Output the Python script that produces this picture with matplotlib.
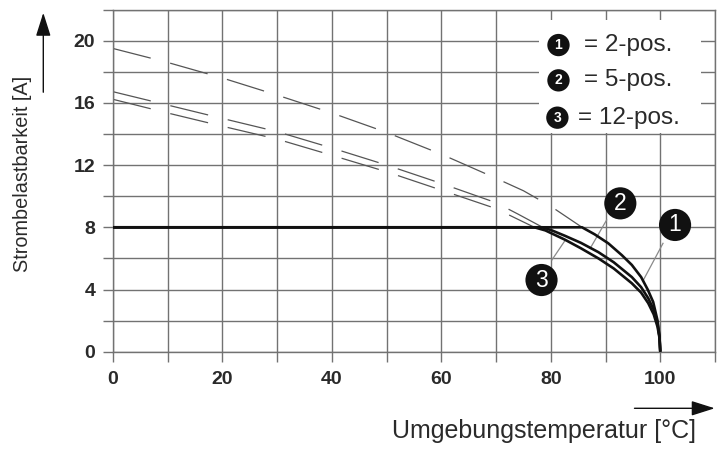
import matplotlib
matplotlib.use("Agg")
import matplotlib.pyplot as plt
from matplotlib.patches import Rectangle, FancyArrowPatch

plt.rcParams['font.family'] = ['Liberation Sans', 'DejaVu Sans']
plt.rcParams['lines.scale_dashes'] = False

# ---- data ----
# dashed base curves
dash1_x = [0, 10, 20, 30, 40, 50, 60, 70, 75, 80, 85.7]
dash1_y = [19.5, 18.6, 17.6, 16.5, 15.35, 14.1, 12.7, 11.15, 10.35, 9.35, 8.0]
dash2_x = [0, 10, 20, 30, 40, 50, 60, 70, 74, 78.5]
dash2_y = [16.72, 15.86, 15.0, 14.15, 13.1, 12.0, 10.82, 9.58, 8.85, 8.0]
dash3_x = [0, 10, 20, 30, 40, 50, 60, 70, 73.6, 77.0]
dash3_y = [16.23, 15.35, 14.5, 13.67, 12.63, 11.57, 10.39, 9.2, 8.58, 8.0]

# solid derating curves
sol1_x = [0, 85.7, 88, 90.5, 93, 94.8, 96.5, 97.7, 98.7, 99.5, 99.85, 100]
sol1_y = [8.0, 8.0, 7.55, 6.97, 6.2, 5.58, 4.8, 4.0, 3.2, 2.0, 1.0, 0]
sol2_x = [0, 78.5, 80.2, 82.6, 85.5, 88.7, 91.5, 94.8, 96.5, 97.8, 98.8, 99.5, 99.85, 100]
sol2_y = [8.0, 8.0, 7.8, 7.45, 7.0, 6.4, 5.75, 4.8, 4.15, 3.44, 2.7, 1.8, 1.0, 0]
sol3_x = [0, 77.0, 79, 82.6, 85.5, 88.7, 91.5, 94.8, 96.5, 97.8, 98.8, 99.5, 99.85, 100]
sol3_y = [8.0, 8.0, 7.8, 7.2, 6.65, 6.0, 5.35, 4.4, 3.8, 3.12, 2.4, 1.6, 0.9, 0]

legend_nums = ['1', '2', '3']
legend_texts = ['= 2-pos.', '= 5-pos.', '= 12-pos.']

x_ticks = list(range(0, 111, 10))
x_labels = ['0', '', '20', '', '40', '', '60', '', '80', '', '100', '']
y_ticks = list(range(0, 23, 2))
y_labels = ['0', '', '4', '', '8', '', '12', '', '16', '', '20', '']

# ---- figure ----
fig = plt.figure(figsize=(7.2, 4.54), dpi=100)
ax = fig.add_axes([113/720, 1 - 351.7/454, (715 - 113)/720, (351.7 - 9.6)/454])
ax.set_xlim(0, 110)
ax.set_ylim(0, 22)
ax.set_axisbelow(True)

gridc = '#727272'
ax.set_xticks(x_ticks)
ax.set_xticklabels(x_labels)
ax.set_yticks(y_ticks)
ax.set_yticklabels(y_labels)
ax.grid(True, color=gridc, lw=1.0)
ax.tick_params(axis='both', direction='out', length=7.2, width=1.0, color=gridc,
               labelsize=14, labelcolor='#2a2a2a')
ax.tick_params(axis='y', pad=5.5)
ax.tick_params(axis='x', pad=6.5)
for lab in ax.get_xticklabels() + ax.get_yticklabels():
    lab.set_fontweight('bold')
for s in ax.spines.values():
    s.set_color(gridc)
    s.set_linewidth(1.0)

# white legend box covering the grid
ax.add_patch(Rectangle((77.8, 14.06), 29.7, 7.27, facecolor='white',
                       edgecolor='none', zorder=1))

dkw = dict(color='#555555', lw=0.9, dashes=(28, 14.5), zorder=2)
ax.plot(dash1_x, dash1_y, **dkw)
ax.plot(dash2_x, dash2_y, **dkw)
ax.plot(dash3_x, dash3_y, **dkw)

skw = dict(color='#111111', lw=1.9, zorder=3, solid_capstyle='butt',
           solid_joinstyle='round')
ax.plot(sol3_x, sol3_y, **skw)
ax.plot(sol2_x, sol2_y, **skw)
ax.plot(sol1_x, sol1_y, **skw)

# leader lines
lkw = dict(color='#8a8a8a', lw=0.9, zorder=2.5)
ax.plot([90.2, 87.2], [8.47, 6.65], **lkw)
ax.plot([100.5, 96.9], [6.97, 4.6], **lkw)
ax.plot([80.2, 82.6], [5.9, 7.15], **lkw)

# curve label circles
ckw = dict(ha='center', va='center', color='white', fontsize=16.5, zorder=5,
           bbox=dict(boxstyle='circle,pad=0.2', fc='#111111', ec='none'))
ax.text(102.7, 8.15, '1', **ckw)
ax.text(92.7, 9.54, '2', **ckw)
ax.text(78.3, 4.61, '3', **ckw)

# legend entries
leg_y = [19.72, 17.45, 15.05]
leg_cx = [81.4, 81.4, 81.2]
leg_tx = [86.0, 86.0, 84.9]
for n, t, yy, cx, tx in zip(legend_nums, legend_texts, leg_y, leg_cx, leg_tx):
    ax.text(cx, yy, n, ha='center', va='center', color='white', fontsize=10,
            fontweight='bold', zorder=5,
            bbox=dict(boxstyle='circle,pad=0.3', fc='#111111', ec='none'))
    ax.text(tx, yy, t, ha='left', va='center', color='#2a2a2a', fontsize=17.5,
            zorder=5)

# axis labels with arrows
fig.text(22.5/720, 1 - 173.5/454, 'Strombelastbarkeit [A]', rotation=90,
         ha='center', va='center', fontsize=14.3, color='#2a2a2a')
fig.text(696/720, 1 - 431/454, 'Umgebungstemperatur [°C]', ha='right',
         va='center', fontsize=18, color='#2a2a2a')
akw = dict(arrowstyle='-|>,head_length=1.2,head_width=0.38', color='#111111', lw=1.0)
fig.add_artist(FancyArrowPatch(
    (43.3/720, 1 - 95/454), (43.3/720, 1 - 10/454), transform=fig.transFigure,
    mutation_scale=12, **akw))
fig.add_artist(FancyArrowPatch(
    (631.7/720, 1 - 408.3/454), (717.5/720, 1 - 408.3/454), transform=fig.transFigure,
    mutation_scale=12, **akw))

fig.savefig('out.png', dpi=100)
